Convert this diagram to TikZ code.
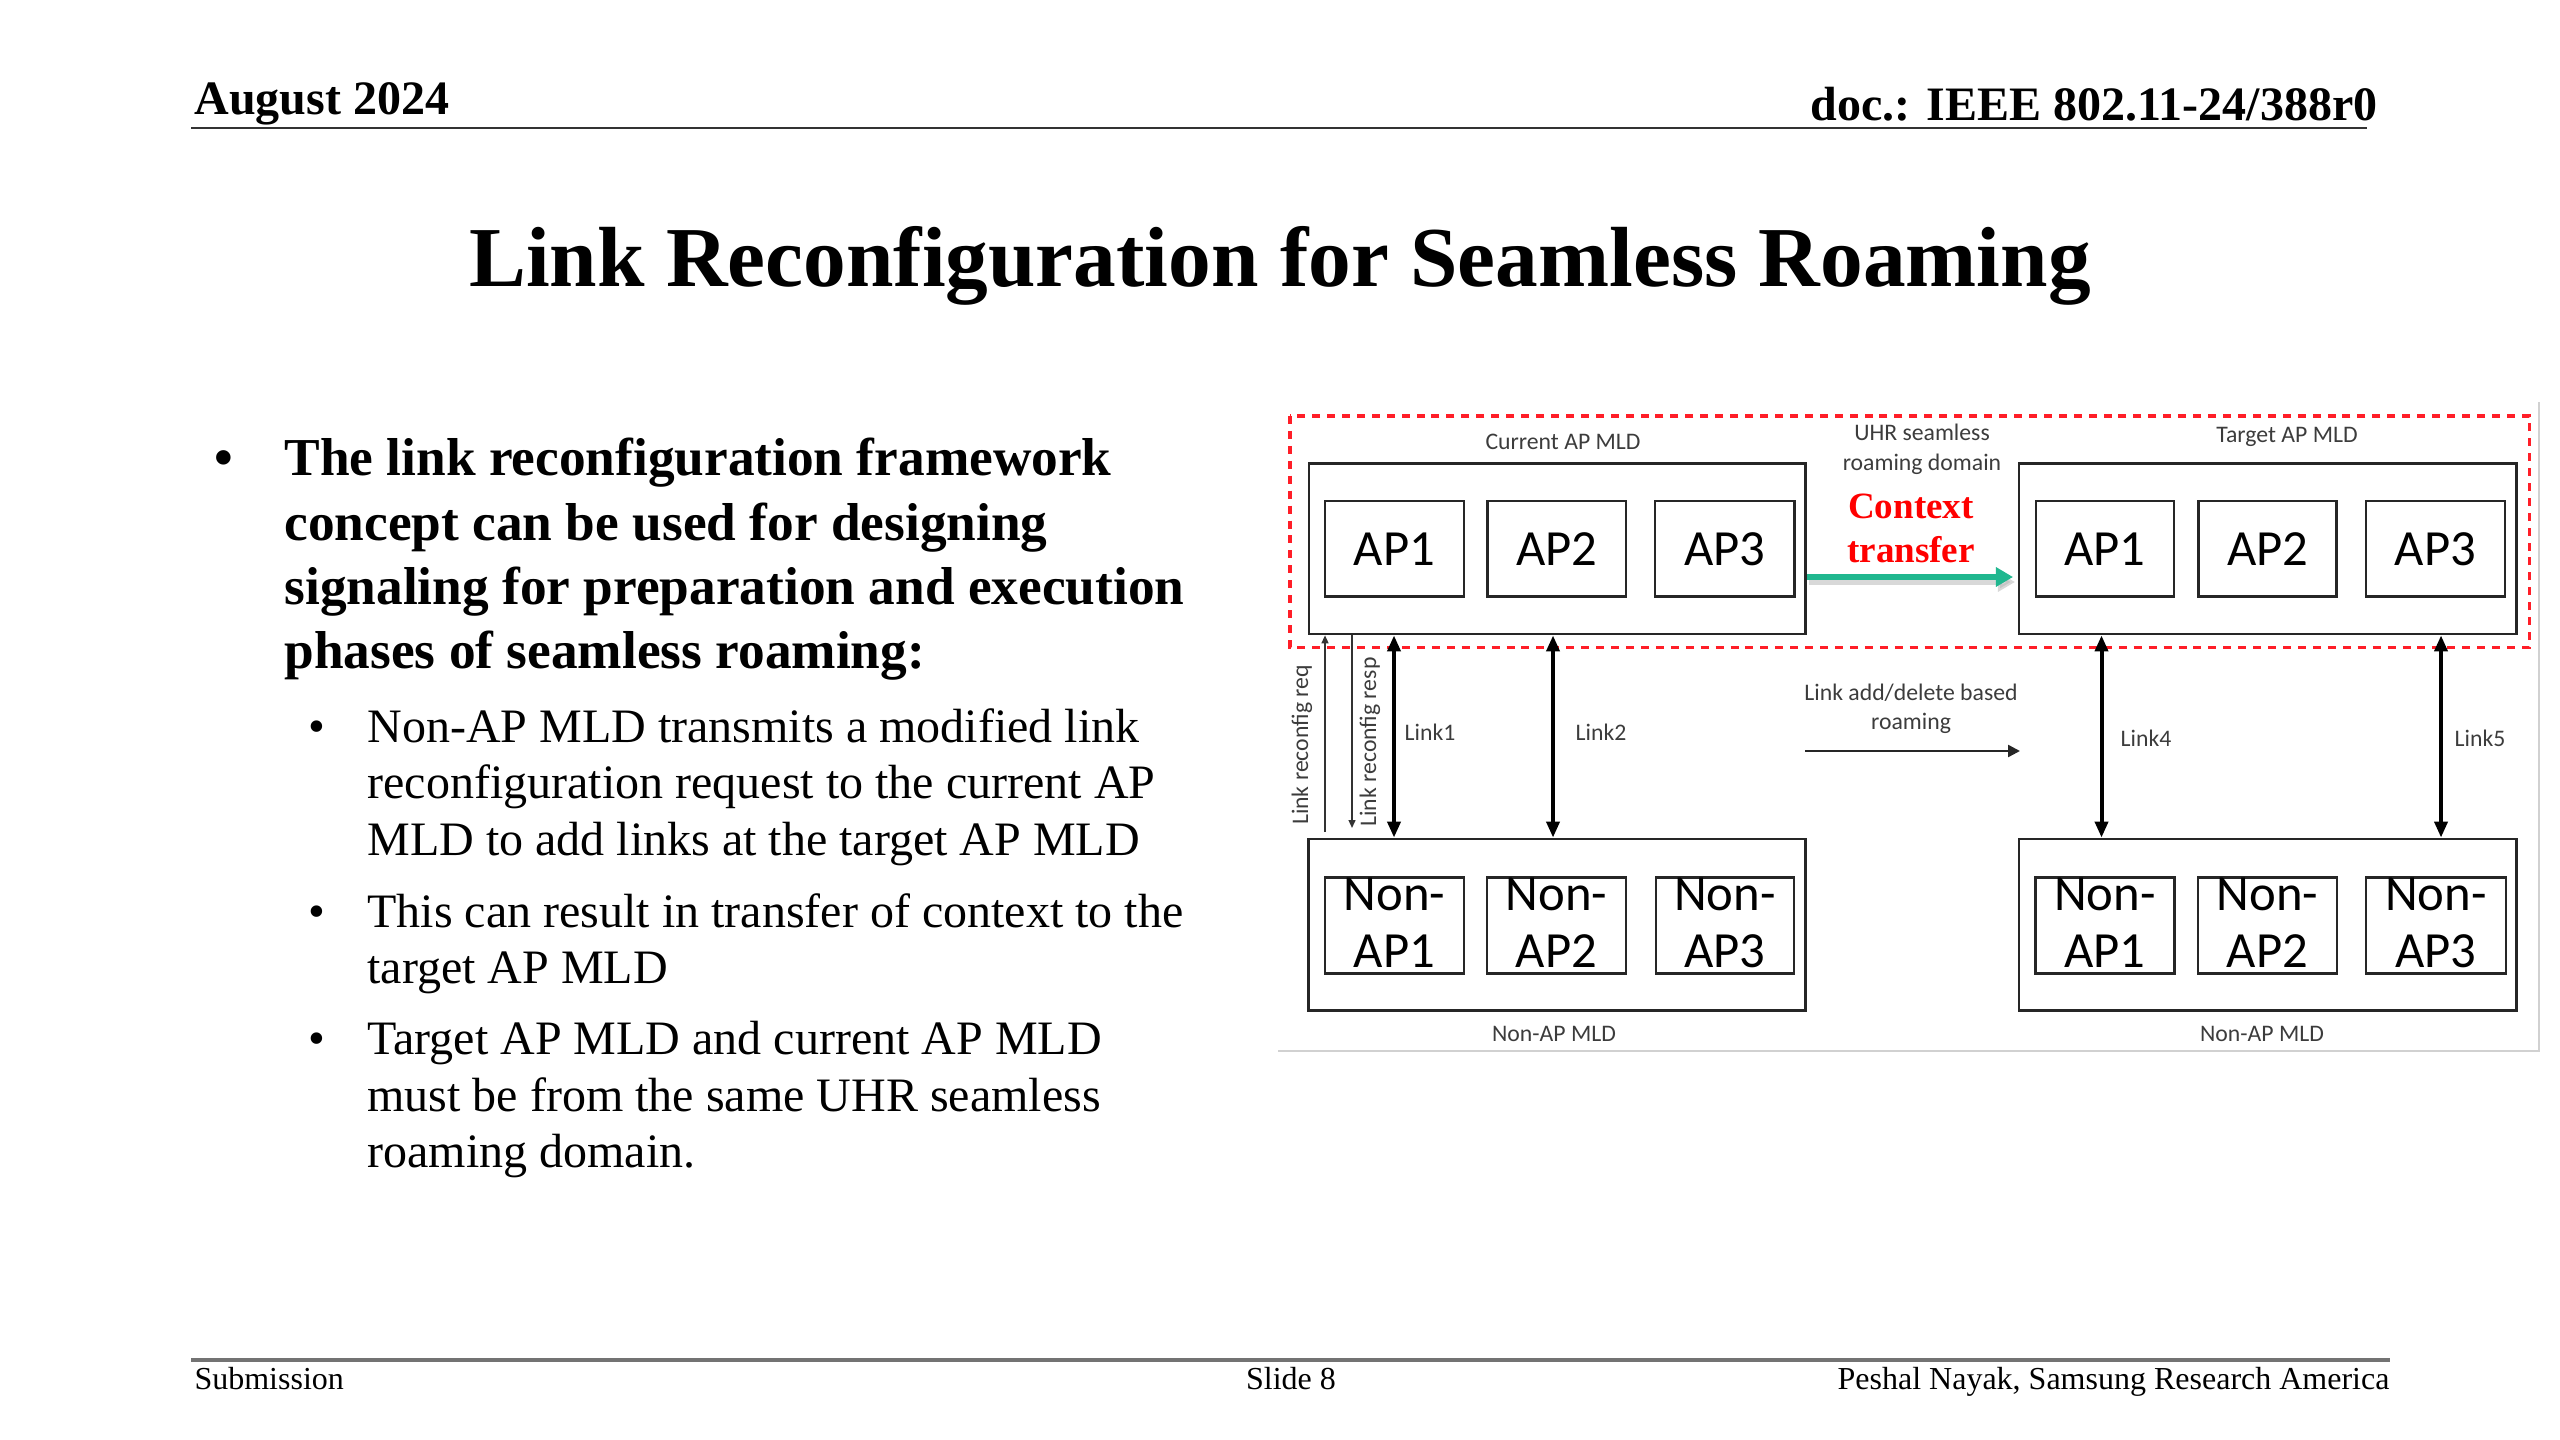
\documentclass[tikz,border=0pt]{standalone}
\usepackage{fontspec}
\setmainfont{Liberation Serif}
\newfontfamily\calibri{Carlito}
\usetikzlibrary{arrows.meta,fit}
\definecolor{ctgreen}{RGB}{32,183,143}
\definecolor{lblgray}{RGB}{60,60,60}
\definecolor{dashred}{RGB}{255,30,40}
\begin{document}
\begin{tikzpicture}[x=0.375pt,y=-0.375pt,
  hdr/.style={font=\bfseries\fontsize{18}{21}\selectfont, inner sep=0pt},
  ttl/.style={font=\bfseries\fontsize{32}{38}\selectfont, inner sep=0pt},
  bodyb/.style={font=\bfseries\fontsize{20}{24}\selectfont, inner sep=0pt, anchor=base west},
  bodyr/.style={font=\fontsize{18}{21.6}\selectfont, inner sep=0pt, anchor=base west},
  foot/.style={font=\fontsize{12}{14}\selectfont, inner sep=0pt},
  mld/.style={draw=black!85, line width=1pt, inner sep=0pt, fit={#1}},
  apbox/.style={draw=black!85, line width=1pt, inner sep=0pt, fit={#1}},
  aptext/.style={font=\calibri\fontsize{19}{21.4}\selectfont, text=black, inner sep=0pt},
  lbl/.style={font=\calibri\fontsize{8.9}{10}\selectfont, text=lblgray, inner sep=0pt},
  ctx/.style={font=\bfseries\fontsize{13.9}{16}\selectfont, text=red, inner sep=0pt, anchor=base},
  linkarrow/.style={line width=1.5pt, black,
    {Triangle[width=4.8pt,length=6pt]}-{Triangle[width=4.8pt,length=6pt]}},
  thinarrow/.style={line width=0.6pt, black!80},
  roamarrow/.style={line width=0.9pt, black!85, -{Triangle[width=4.5pt,length=4.5pt]}},
  greenarrow/.style={line width=2.3pt, ctgreen, -{Triangle[width=7pt,length=6.4pt]}},
  shadowarrow/.style={line width=2.3pt, black!30, opacity=0.5, -{Triangle[width=7pt,length=6.4pt]}},
  roamdomain/.style={draw=dashred, line width=1.3pt, dash pattern=on 3pt off 2.6pt},
  nonline1/.style={aptext, anchor=base, yshift=-13pt},
  nonline2/.style={aptext, anchor=base, yshift=-34.4pt},
]
\useasboundingbox (0,0) rectangle (2560,1440);

% header
\node[hdr, anchor=base west] (date) at (194,115) {August 2024};
\node[hdr, anchor=base east] (doc) at (2378,121) {doc.: IEEE 802.11-24/388r0};
\coordinate (hl1) at (191,128);
\coordinate (hl2) at (2367,128);
\draw[line width=1.1pt, black!80] (hl1) -- (hl2);

% title
\node[ttl, anchor=base] (title) at (1280,287) {Link Reconfiguration for Seamless Roaming};

% body text
\node[bodyb] (b1) at (214,476) {\textbullet};
\node[bodyb] (t1) at (284,476) {The link reconfiguration framework};
\node[bodyb] (t2) at (284,540) {concept can be used for designing};
\node[bodyb] (t3) at (284,604) {signaling for preparation and execution};
\node[bodyb] (t4) at (284,668) {phases of seamless roaming:};

\node[bodyr] (s1b) at (308,742) {\textbullet};
\node[bodyr] (s1a) at (367,742) {Non-AP MLD transmits a modified link};
\node[bodyr] (s1c) at (367,798) {reconfiguration request to the current AP};
\node[bodyr] (s1d) at (367,855) {MLD to add links at the target AP MLD};
\node[bodyr] (s2b) at (308,927) {\textbullet};
\node[bodyr] (s2a) at (367,927) {This can result in transfer of context to the};
\node[bodyr] (s2c) at (367,983) {target AP MLD};
\node[bodyr] (s3b) at (308,1054) {\textbullet};
\node[bodyr] (s3a) at (367,1054) {Target AP MLD and current AP MLD};
\node[bodyr] (s3c) at (367,1111) {must be from the same UHR seamless};
\node[bodyr] (s3d) at (367,1167) {roaming domain.};

% footer
\coordinate (fl1) at (191,1360);
\coordinate (fl2) at (2390,1360);
\draw[line width=1.5pt, black!55] (fl1) -- (fl2);
\node[foot, anchor=base west] (sub) at (194,1389) {Submission};
\node[foot, anchor=base] (slide) at (1291,1389) {Slide 8};
\node[foot, anchor=base east] (auth) at (2390,1389) {Peshal Nayak, Samsung Research America};

% diagram frame
\coordinate (fr1) at (1278,1051);
\coordinate (fr2) at (2539,1051);
\coordinate (fr3) at (2539,402);
\draw[line width=0.8pt, black!18] (fr1) -- (fr2) -- (fr3);

% roaming domain
\draw[roamdomain] (1290,416) rectangle (2529.5,647.5);

% AP MLDs
\node[mld={(1309,463.5) (1805.5,634)}] (cur) {};
\node[apbox={(1325,501) (1464,596.7)}] (cap1) {};
\node[apbox={(1487.5,501) (1626,596.7)}] (cap2) {};
\node[apbox={(1655,501) (1794.5,596.7)}] (cap3) {};
\node[aptext] (cap1t) at (cap1) {AP1};
\node[aptext] (cap2t) at (cap2) {AP2};
\node[aptext] (cap3t) at (cap3) {AP3};

\node[mld={(2019,463.5) (2516.5,634)}] (tgt) {};
\node[apbox={(2036,501) (2174,596.7)}] (tap1) {};
\node[apbox={(2198.5,501) (2336.6,596.7)}] (tap2) {};
\node[apbox={(2366,501) (2505,596.7)}] (tap3) {};
\node[aptext] (tap1t) at (tap1) {AP1};
\node[aptext] (tap2t) at (tap2) {AP2};
\node[aptext] (tap3t) at (tap3) {AP3};

% Non-AP MLDs
\node[mld={(1308.5,839) (1805.5,1010.7)}] (nl) {};
\node[apbox={(1325,877.3) (1464,973.3)}] (nl1) {};
\node[apbox={(1487,877.3) (1626,973.3)}] (nl2) {};
\node[apbox={(1656,877.3) (1794,973.3)}] (nl3) {};
\node[nonline1] (nl1a) at (nl1.north) {Non-};
\node[nonline2] (nl1b) at (nl1.north) {AP1};
\node[nonline1] (nl2a) at (nl2.north) {Non-};
\node[nonline2] (nl2b) at (nl2.north) {AP2};
\node[nonline1] (nl3a) at (nl3.north) {Non-};
\node[nonline2] (nl3b) at (nl3.north) {AP3};

\node[mld={(2019,839) (2516.5,1010.7)}] (nr) {};
\node[apbox={(2035.5,877.3) (2174.4,973.3)}] (nr1) {};
\node[apbox={(2198,877.3) (2337,973.3)}] (nr2) {};
\node[apbox={(2366,877.3) (2506,973.3)}] (nr3) {};
\node[nonline1] (nr1a) at (nr1.north) {Non-};
\node[nonline2] (nr1b) at (nr1.north) {AP1};
\node[nonline1] (nr2a) at (nr2.north) {Non-};
\node[nonline2] (nr2b) at (nr2.north) {AP2};
\node[nonline1] (nr3a) at (nr3.north) {Non-};
\node[nonline2] (nr3b) at (nr3.north) {AP3};

% labels
\node[lbl] (curlbl) at (1563,442) {Current AP MLD};
\node[lbl] (tgtlbl) at (2287,437) {Target AP MLD};
\node[lbl, anchor=base] (dom1) at (1922,441) {UHR seamless};
\node[lbl, anchor=base] (dom2) at (1922,470) {roaming domain};
\node[lbl] (nllbl) at (1554,1034) {Non-AP MLD};
\node[lbl] (nrlbl) at (2262,1034) {Non-AP MLD};

% context transfer
\node[ctx] (ctx1) at (1911,518) {Context};
\node[ctx] (ctx2) at (1911,562) {transfer};
\coordinate (g1) at (1807,577);
\coordinate (g2) at (2013,577);
\coordinate (g1s) at (1809,582);
\coordinate (g2s) at (2015,582);
\draw[shadowarrow] (g1s) -- (g2s);
\draw[greenarrow] (g1) -- (g2);

% links
\coordinate (x1) at (1394,0);
\coordinate (x2) at (1553,0);
\coordinate (x4) at (2101.5,0);
\coordinate (x5) at (2441,0);
\draw[linkarrow] (x1 |- cur.south) -- (x1 |- nl.north);
\draw[linkarrow] (x2 |- cur.south) -- (x2 |- nl.north);
\draw[linkarrow] (x4 |- tgt.south) -- (x4 |- nr.north);
\draw[linkarrow] (x5 |- tgt.south) -- (x5 |- nr.north);
\node[lbl] (l1) at (1430,732) {Link1};
\node[lbl] (l2) at (1601,732) {Link2};
\node[lbl] (l4) at (2146,738) {Link4};
\node[lbl] (l5) at (2480,738) {Link5};

% link reconfig req / resp
\coordinate (rq) at (1325,832);
\coordinate (rqx) at (1325,0);
\coordinate (rs) at (1352,828);
\coordinate (rsx) at (1352,0);
\draw[thinarrow, -{Triangle[width=2.6pt,length=3pt]}] (rq) -- (rqx |- cur.south);
\draw[thinarrow, -{Triangle[width=2.6pt,length=3pt]}] (rsx |- cur.south) -- (rs);
\node[lbl, rotate=90] (rqlbl) at (1302,745) {Link reconfig req};
\node[lbl, rotate=90] (rslbl) at (1370,742) {Link reconfig resp};

% link add/delete based roaming
\node[lbl, anchor=base] (ad1) at (1911,700) {Link add/delete based};
\node[lbl, anchor=base] (ad2) at (1911,729) {roaming};
\coordinate (ra) at (1805,751);
\coordinate (rb) at (2020,751);
\draw[roamarrow] (ra) -- (rb);
\end{tikzpicture}
\end{document}
